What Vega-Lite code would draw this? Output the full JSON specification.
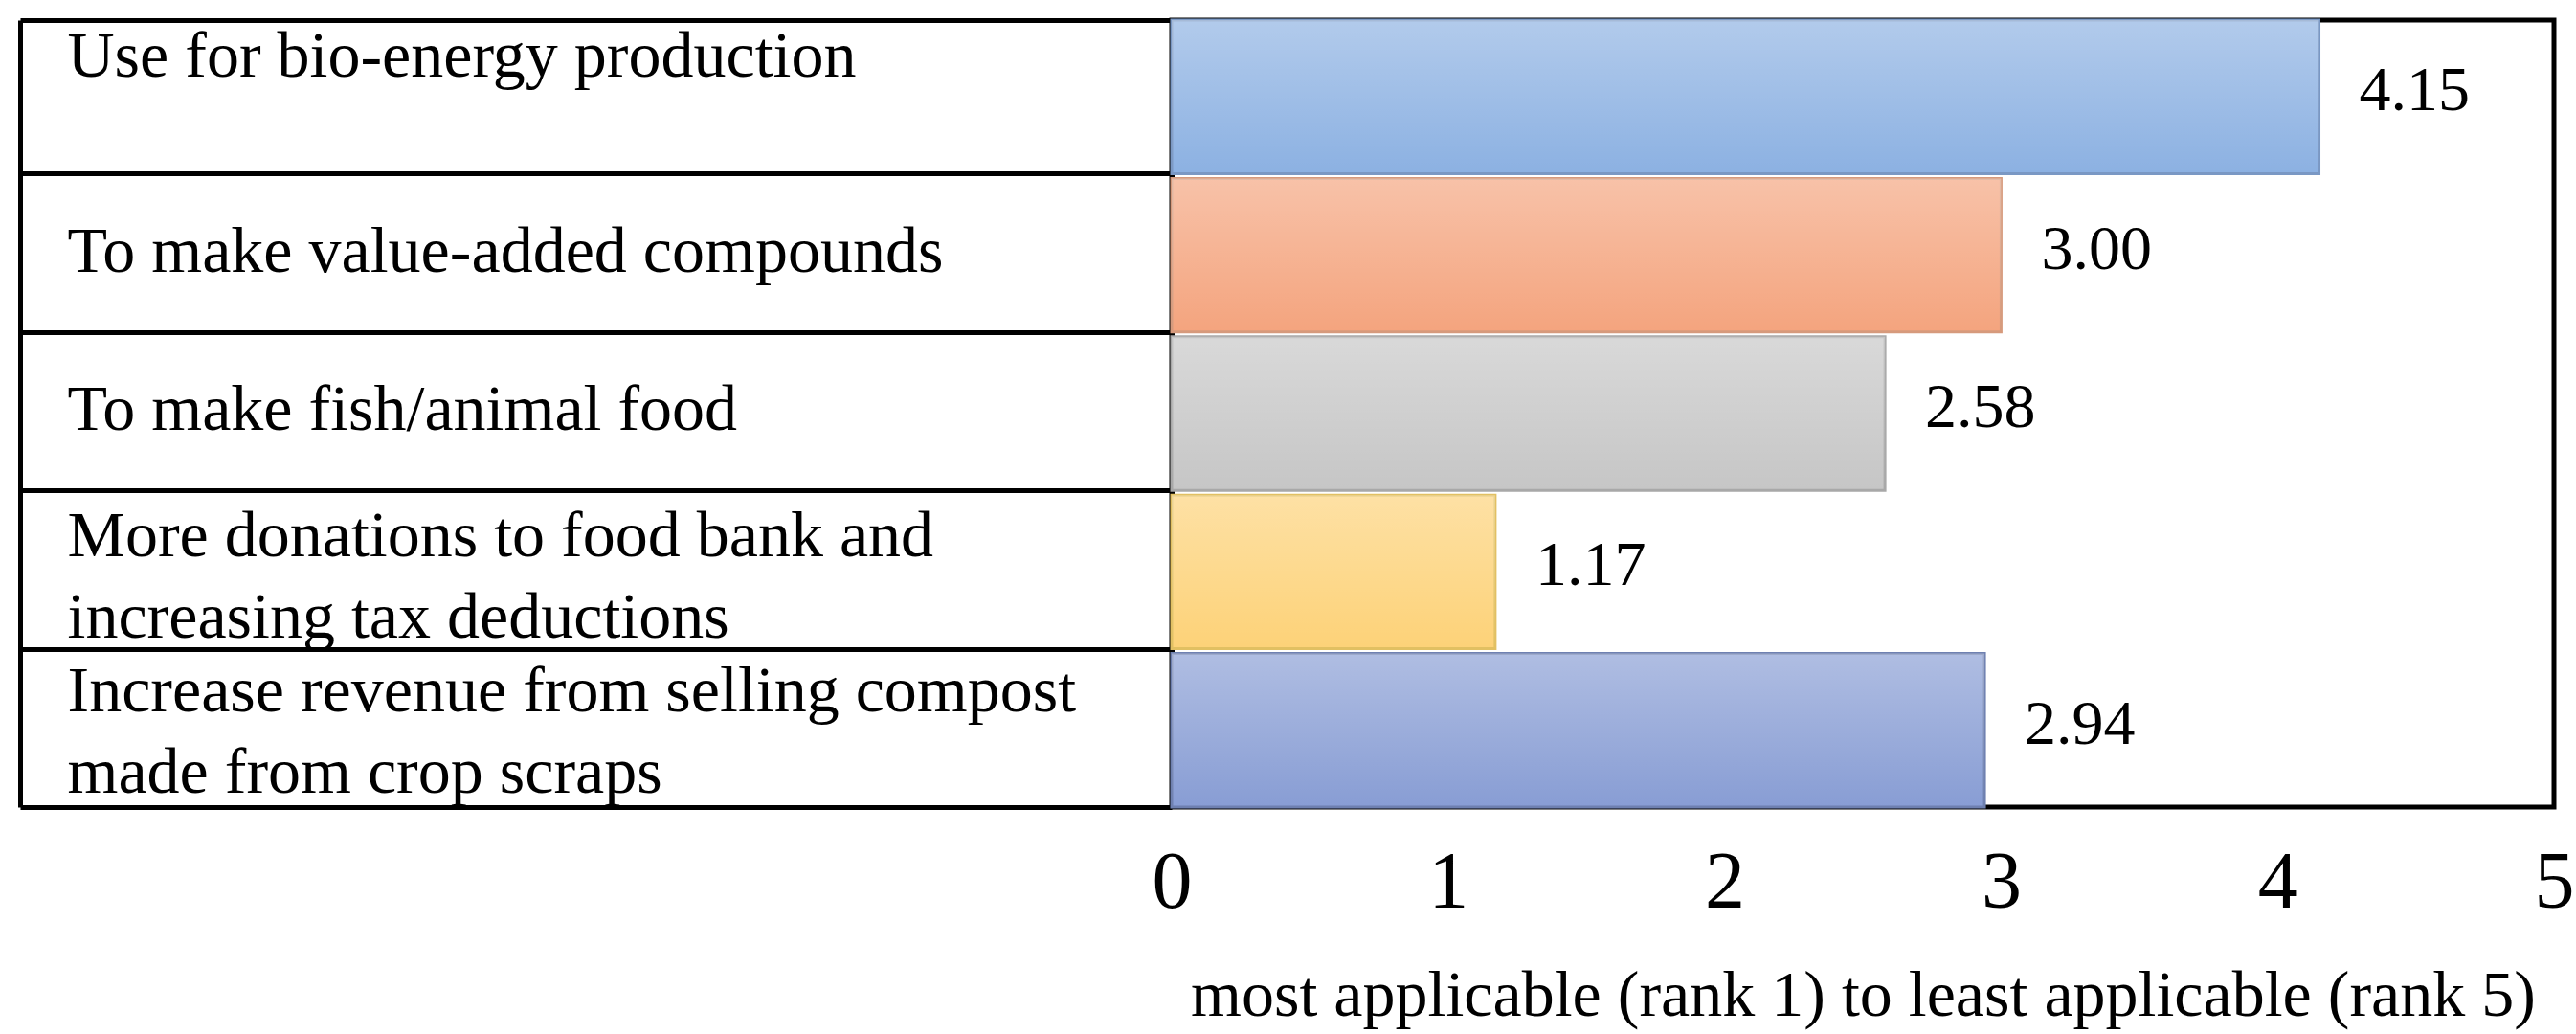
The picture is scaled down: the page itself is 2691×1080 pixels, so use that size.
{
  "$schema": "https://vega.github.io/schema/vega-lite/v6.json",
  "width": 1444,
  "height": 822,
  "autosize": {"type": "none"},
  "padding": {"left": 1224, "top": 21, "right": 23, "bottom": 237},
  "background": "white",
  "config": {"view": {"stroke": "black", "strokeWidth": 5}, "font": "Liberation Serif"},
  "data": {
    "values": [
      {"option": "Use for bio-energy production", "score": 4.15},
      {"option": "To make value-added compounds", "score": 3.00},
      {"option": "To make fish/animal food", "score": 2.58},
      {"option": "More donations to food bank and increasing tax deductions", "score": 1.17},
      {"option": "Increase revenue from selling compost made from crop scraps", "score": 2.94}
    ]
  },
  "layer": [
    {
      "mark": {"type": "bar", "strokeWidth": 3},
      "encoding": {
        "y": {
          "field": "option", "type": "nominal", "sort": null,
          "scale": {"paddingInner": 0.03, "paddingOuter": 0},
          "axis": {
            "orient": "left", "title": null,
            "domain": true, "domainColor": "black", "domainWidth": 5,
            "ticks": true, "tickBand": "extent", "tickSize": 1203, "tickWidth": 5, "tickColor": "black",
            "labelAlign": "left", "labelBaseline": "middle", "labelPadding": -49,
            "labelFontSize": 68, "labelFont": "Liberation Serif", "labelColor": "black",
            "labelLimit": 2000, "labelLineHeight": 85,
            "labelOffset": {
              "condition": [
                {"test": "datum.value == 'Use for bio-energy production'", "value": -42},
                {"test": "datum.value == 'To make value-added compounds'", "value": -3},
                {"test": "datum.value == 'More donations to food bank and increasing tax deductions'", "value": -37},
                {"test": "datum.value == 'Increase revenue from selling compost made from crop scraps'", "value": -40}
              ],
              "value": -4
            },
            "labelExpr": "datum.value == 'More donations to food bank and increasing tax deductions' ? ['More donations to food bank and', 'increasing tax deductions'] : datum.value == 'Increase revenue from selling compost made from crop scraps' ? ['Increase revenue from selling compost', 'made from crop scraps'] : datum.value"
          }
        },
        "x": {
          "field": "score", "type": "quantitative",
          "scale": {"domain": [0, 5], "nice": false},
          "axis": {
            "title": "most applicable (rank 1) to least applicable (rank 5)",
            "values": [0, 1, 2, 3, 4, 5], "format": "d", "grid": false, "domain": false, "ticks": false,
            "labelFontSize": 84, "labelPadding": 38, "labelColor": "black", "labelFlush": false,
            "labelFont": "Liberation Serif",
            "titleFont": "Liberation Serif", "titleFontSize": 68, "titleFontWeight": "normal",
            "titleColor": "black", "titlePadding": 42
          }
        },
        "color": {
          "field": "option", "type": "nominal", "sort": null, "legend": null,
          "scale": {
            "domain": ["Use for bio-energy production", "To make value-added compounds", "To make fish/animal food", "More donations to food bank and increasing tax deductions", "Increase revenue from selling compost made from crop scraps"],
            "range": ["#8cb1e2", "#f4a47e", "#c6c6c6", "#fdd278", "#889dd4"]
          }
        },
        "stroke": {
          "field": "option", "type": "nominal", "sort": null, "legend": null,
          "scale": {
            "domain": ["Use for bio-energy production", "To make value-added compounds", "To make fish/animal food", "More donations to food bank and increasing tax deductions", "Increase revenue from selling compost made from crop scraps"],
            "range": ["#7a98c4", "#d69a7c", "#a8a8a8", "#e2c062", "#6e80b0"]
          }
        }
      }
    },
    {
      "mark": {
        "type": "bar",
        "color": {"gradient": "linear", "x1": 0, "y1": 0, "x2": 0, "y2": 1, "stops": [{"offset": 0, "color": "rgba(255,255,255,0.33)"}, {"offset": 1, "color": "rgba(255,255,255,0)"}]}
      },
      "encoding": {
        "y": {"field": "option", "type": "nominal", "sort": null, "axis": null},
        "x": {"field": "score", "type": "quantitative"}
      }
    },
    {
      "mark": {"type": "text", "align": "left", "baseline": "middle", "dx": 42, "dy": -6, "fontSize": 66, "font": "Liberation Serif", "color": "black"},
      "encoding": {
        "y": {
          "field": "option", "type": "nominal", "sort": null,
          "axis": {
            "orient": "left", "offset": 1203, "labels": false, "ticks": false,
            "domain": true, "domainColor": "black", "domainWidth": 5, "title": null, "grid": false
          }
        },
        "x": {"field": "score", "type": "quantitative"},
        "text": {"field": "score", "type": "quantitative", "format": ".2f"}
      }
    }
  ],
  "resolve": {"axis": {"y": "independent"}}
}
